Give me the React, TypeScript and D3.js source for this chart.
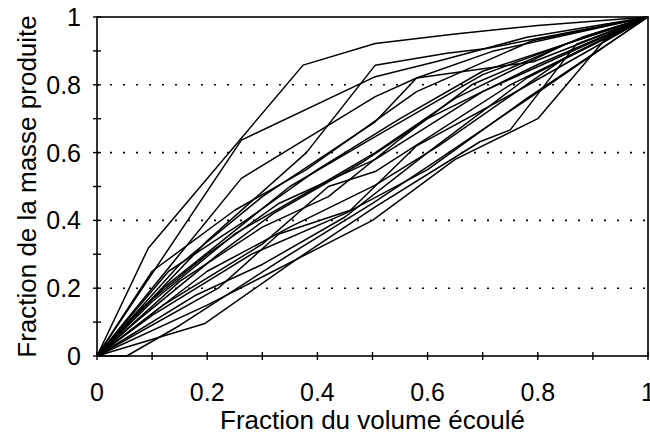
import React from "react";
import * as d3 from "d3";

const xTickLabels = ["0", "0.2", "0.4", "0.6", "0.8", "1"];
const yTickLabels = ["0", "0.2", "0.4", "0.6", "0.8", "1"];
const majorTicks = [0, 0.2, 0.4, 0.6, 0.8, 1];
const minorTicks = [0, 0.1, 0.2, 0.3, 0.4, 0.5, 0.6, 0.7, 0.8, 0.9, 1];
const gridValues = [0.2, 0.4, 0.6, 0.8];

const xTitle = "Fraction du volume écoulé";
const yTitle = "Fraction de la masse produite";

// Each curve: [volume fraction, mass fraction]
const curveA = [[0, 0], [0.093, 0.318], [0.374, 0.858], [0.505, 0.922], [0.65, 0.95], [0.8, 0.975], [1, 1]];
const curveB = [[0, 0], [0.262, 0.637], [0.505, 0.824], [0.62, 0.87], [0.78, 0.94], [1, 1]];
const curveC = [[0, 0], [0.2, 0.34], [0.38, 0.6], [0.505, 0.858], [0.635, 0.893], [0.707, 0.907], [1, 1]];
const curveD = [[0, 0], [0.1, 0.2], [0.262, 0.524], [0.505, 0.765], [0.58, 0.82], [0.792, 0.868], [1, 1]];
const curveE = [[0, 0], [0.15, 0.27], [0.3, 0.47], [0.505, 0.691], [0.58, 0.82], [0.72, 0.9], [1, 1]];
const curveF = [[0, 0], [0.12, 0.2], [0.35, 0.5], [0.505, 0.647], [0.7, 0.83], [0.9, 0.95], [1, 1]];
const curveG = [[0, 0], [0.1, 0.16], [0.25, 0.36], [0.4, 0.5], [0.505, 0.6], [0.65, 0.76], [0.85, 0.92], [1, 1]];
const curveH = [[0, 0], [0.08, 0.14], [0.2, 0.3], [0.33, 0.45], [0.505, 0.58], [0.7, 0.78], [1, 1]];
const curveI = [[0, 0], [0.12, 0.15], [0.3, 0.33], [0.42, 0.5], [0.505, 0.544], [0.75, 0.8], [1, 1]];
const curveJ = [[0, 0], [0.2, 0.25], [0.35, 0.38], [0.505, 0.504], [0.62, 0.62], [0.85, 0.88], [1, 1]];
const curveK = [[0, 0], [0.196, 0.096], [0.36, 0.283], [0.505, 0.44], [0.695, 0.632], [0.75, 0.667], [0.87, 0.92], [1, 1]];
const curveL = [[0, 0], [0.054, 0], [0.15, 0.09], [0.35, 0.3], [0.5, 0.45], [0.62, 0.58], [0.82, 0.8], [1, 1]];
const curveM = [[0, 0], [0.1, 0.12], [0.28, 0.3], [0.45, 0.42], [0.6, 0.55], [0.78, 0.76], [1, 1]];
const curveN = [[0, 0], [0.15, 0.22], [0.3, 0.38], [0.42, 0.47], [0.55, 0.64], [0.68, 0.8], [0.88, 0.94], [1, 1]];
const curveO = [[0, 0], [0.07, 0.1], [0.22, 0.3], [0.32, 0.42], [0.48, 0.57], [0.6, 0.7], [0.8, 0.86], [1, 1]];
const curveP = [[0, 0], [0.13, 0.25], [0.27, 0.4], [0.4, 0.55], [0.55, 0.7], [0.7, 0.84], [1, 1]];
const curveQ = [[0, 0], [0.18, 0.18], [0.3, 0.27], [0.45, 0.41], [0.6, 0.6], [0.78, 0.82], [1, 1]];
const curveR = [[0, 0], [0.1, 0.25], [0.25, 0.43], [0.38, 0.55], [0.58, 0.78], [0.79, 0.93], [1, 1]];
const curveS = [[0, 0], [0.2, 0.15], [0.32, 0.25], [0.5, 0.4], [0.65, 0.58], [0.8, 0.7], [0.92, 0.93], [1, 1]];
const curveT = [[0, 0], [0.22, 0.2], [0.33, 0.36], [0.46, 0.43], [0.58, 0.62], [0.75, 0.77], [1, 1]];

const curves = [curveA, curveB, curveC, curveD, curveE, curveF, curveG, curveH, curveI, curveJ,
  curveK, curveL, curveM, curveN, curveO, curveP, curveQ, curveR, curveS, curveT];

const W = 650;
const H = 435;
const FONT = "'Liberation Sans', Arial, Helvetica, sans-serif";

export default function App() {
  const x = d3.scaleLinear().domain([0, 1]).range([97, 648]);
  const y = d3.scaleLinear().domain([0, 1]).range([356, 17]);
  const line = d3.line<number[]>().x((d) => x(d[0])).y((d) => y(d[1]));

  return (
    <svg width={W} height={H} style={{ position: "absolute", left: 0, top: 0, background: "#fff" }}>
      <rect x={0} y={0} width={W} height={H} fill="#fff" />
      {gridValues.map((v) => (
        <line key={"g" + v} x1={x(0)} x2={x(1)} y1={y(v)} y2={y(v)} stroke="#000" strokeWidth={1.6} strokeDasharray="2 11" />
      ))}
      {curves.map((c, i) => (
        <path key={"c" + i} d={line(c) || ""} fill="none" stroke="#000" strokeWidth={1.5} strokeLinejoin="round" />
      ))}
      <rect x={x(0)} y={y(1)} width={x(1) - x(0)} height={y(0) - y(1)} fill="none" stroke="#000" strokeWidth={1.6} />
      {minorTicks.map((v) => (
        <g key={"t" + v}>
          <line x1={x(v)} x2={x(v)} y1={y(0) - 4} y2={y(0) + 4} stroke="#000" strokeWidth={1.4} />
          <line x1={x(0) - 4} x2={x(0) + 4} y1={y(v)} y2={y(v)} stroke="#000" strokeWidth={1.4} />
        </g>
      ))}
      {majorTicks.map((v, i) => (
        <text key={"xl" + v} x={x(v)} y={401} textAnchor="middle" fontFamily={FONT} fontSize={25} fill="#000">
          {xTickLabels[i]}
        </text>
      ))}
      {majorTicks.map((v, i) => (
        <text key={"yl" + v} x={81} y={y(v) + 9} textAnchor="end" fontFamily={FONT} fontSize={25} fill="#000">
          {yTickLabels[i]}
        </text>
      ))}
      <text x={(x(0) + x(1)) / 2} y={429} textAnchor="middle" fontFamily={FONT} fontSize={26} fill="#000">
        {xTitle}
      </text>
      <text transform={`translate(36, ${(y(0) + y(1)) / 2}) rotate(-90)`} textAnchor="middle" fontFamily={FONT} fontSize={26} fill="#000">
        {yTitle}
      </text>
    </svg>
  );
}
